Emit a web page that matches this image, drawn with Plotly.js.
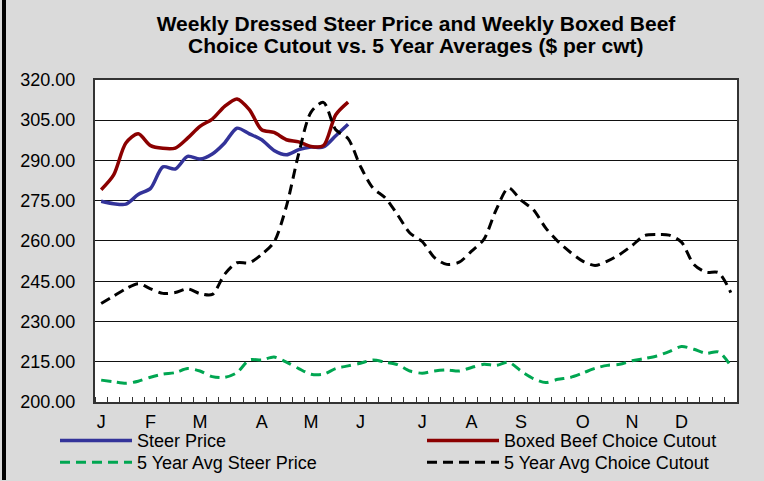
<!DOCTYPE html>
<html>
<head>
<meta charset="utf-8">
<script src="https://cdn.plot.ly/plotly-3.0.1.min.js"></script>
<style>
html,body{margin:0;padding:0;background:#dadada;}
#chart{width:764px;height:481px;}
</style>
</head>
<body>
<div id="chart"></div>
<script>
// ---- data ----
const weeks = [1,2,3,4,5,6,7,8,9,10,11,12,13,14,15,16,17,18,19,20,21,22,23,24,25,26,
               27,28,29,30,31,32,33,34,35,36,37,38,39,40,41,42,43,44,45,46,47,48,49,50,51,52];
const monthWeeks  = [1,5,9,14,18,22,27,31,35,40,44,48];
const monthLabels = ['J','F','M','A','M','J','J','A','S','O','N','D'];
const yTicks = [200,215,230,245,260,275,290,305,320];

const steerPrice = [274.8,273.9,273.7,277.3,279.6,287.6,286.8,291.5,290.5,292.4,
                    296.5,302.0,299.9,297.7,293.7,292.1,294.0,295.0,295.0,299.2,303.5];
const boxedBeef  = [279.1,284.5,296.5,299.9,295.5,294.5,294.6,298.3,302.7,305.4,
                    310.1,312.9,308.9,301.4,300.4,297.7,296.9,295.2,295.5,307.0,311.7];
const avgSteer   = [208.2,207.6,207.0,207.8,209.3,210.4,211.0,212.5,211.6,209.5,
                    209.2,211.0,215.7,215.7,216.8,214.9,212.5,210.4,210.4,212.5,
                    213.5,214.5,215.7,214.9,214.0,211.6,210.8,211.6,212.0,211.6,
                    212.9,214.1,213.7,214.9,211.6,208.8,207.3,208.5,209.2,210.8,
                    212.6,213.7,214.1,215.4,216.2,217.2,218.8,220.7,219.7,218.2,
                    218.7,213.5];
const avgChoice  = [236.7,239.5,242.2,244.1,242.2,240.5,240.8,242.2,240.4,240.1,
                    247.6,251.9,251.9,255.0,259.6,272.9,292.5,308.0,311.6,301.4,
                    298.1,287.8,279.8,276.1,269.8,263.0,259.8,253.8,251.3,252.1,
                    256.2,260.6,271.7,279.8,275.2,271.7,264.9,259.8,255.8,252.5,
                    250.9,252.5,255.0,258.3,262.0,262.4,262.2,259.6,251.3,248.4,
                    248.2,240.8];

// ---- layout geometry (pixel positions converted to paper fractions) ----
const W = 764, H = 481;
const PL = 95, PR = 737, PT = 80, PB = 403;   // plot area edges in px
const fx = p => p / W;
const fy = p => 1 - p / H;
const FONT = 'Liberation Sans, Arial, Helvetica, sans-serif';

const boundaries = [];
for (let i = 0; i <= weeks.length; i++) boundaries.push(i + 0.5);

const traces = [
  {x: weeks.slice(0, steerPrice.length), y: steerPrice, name: 'Steer Price', mode: 'lines',
   line: {color: '#333399', width: 3.5, shape: 'spline', smoothing: 0.8}, legend: 'legend', showlegend: true},
  {x: weeks.slice(0, boxedBeef.length), y: boxedBeef, name: 'Boxed Beef Choice Cutout', mode: 'lines',
   line: {color: '#8b0000', width: 3.5, shape: 'spline', smoothing: 0.8}, legend: 'legend2', showlegend: true},
  {x: weeks, y: avgSteer, name: '5 Year Avg Steer Price', mode: 'lines',
   line: {color: '#00a651', width: 3, dash: '10px,6px', shape: 'spline', smoothing: 0.8}, legend: 'legend3', showlegend: true},
  {x: weeks, y: avgChoice, name: '5 Year Avg Choice Cutout', mode: 'lines',
   line: {color: '#000000', width: 3, dash: '10px,6px', shape: 'spline', smoothing: 0.8}, legend: 'legend4', showlegend: true}
];

function leg(xp, yp) {
  return {x: fx(xp), y: fy(yp), xanchor: 'left', yanchor: 'middle', orientation: 'v', visible: true,
          bgcolor: 'rgba(0,0,0,0)', borderwidth: 0, itemwidth: 72,
          font: {family: FONT, size: 18, color: '#000'}};
}

const layout = {
  width: W, height: H,
  showlegend: true,
  margin: {l: 0, r: 0, t: 0, b: 0, pad: 0},
  paper_bgcolor: '#dadada',
  plot_bgcolor: '#ffffff',
  font: {family: FONT, size: 18, color: '#000'},
  title: {text: '<b>Weekly Dressed Steer Price and Weekly Boxed Beef</b>',
          font: {family: FONT, size: 21, color: '#000'},
          x: fx((PL + PR) / 2), xref: 'paper', xanchor: 'center',
          y: fy(24), yref: 'paper', yanchor: 'middle'},
  annotations: [
    {text: '<b>Choice Cutout vs. 5 Year Averages ($ per cwt)</b>', showarrow: false,
     xref: 'paper', x: fx((PL + PR) / 2), xanchor: 'center', yref: 'paper', y: fy(46), yanchor: 'middle',
     font: {family: FONT, size: 21, color: '#000'}}
  ],
  xaxis: {domain: [fx(PL), fx(PR)], range: [0.5, 52.5],
          tickmode: 'array', tickvals: monthWeeks, ticktext: monthLabels,
          ticks: '', ticklabelstandoff: 2, showgrid: false, zeroline: false, showline: true, mirror: true,
          linecolor: '#333', linewidth: 2, tickfont: {family: FONT, size: 18, color: '#000'},
          minor: {tickmode: 'array', tickvals: boundaries, ticks: 'inside', ticklen: 5,
                  tickcolor: '#333', tickwidth: 1, showgrid: false}},
  yaxis: {domain: [fy(PB), fy(PT)], range: [200, 320], tickmode: 'array', tickvals: yTicks, tickformat: '.2f',
          ticks: '', showgrid: true, gridcolor: '#111', gridwidth: 1, zeroline: false,
          showline: true, mirror: true, linecolor: '#333', linewidth: 2,
          ticklabelstandoff: 14, tickfont: {family: FONT, size: 18, color: '#000'}},
  legend:  leg(55, 440.7),
  legend2: leg(422, 440.7),
  legend3: leg(55, 463),
  legend4: leg(422, 463),
  shapes: [
    {type: 'rect', xref: 'paper', yref: 'paper', x0: fx(2), x1: fx(6),
     y0: 0, y1: 1, fillcolor: '#000', line: {width: 0}, layer: 'above'}
  ]
};

Plotly.newPlot('chart', traces, layout, {displayModeBar: false, staticPlot: true});
</script>
</body>
</html>
